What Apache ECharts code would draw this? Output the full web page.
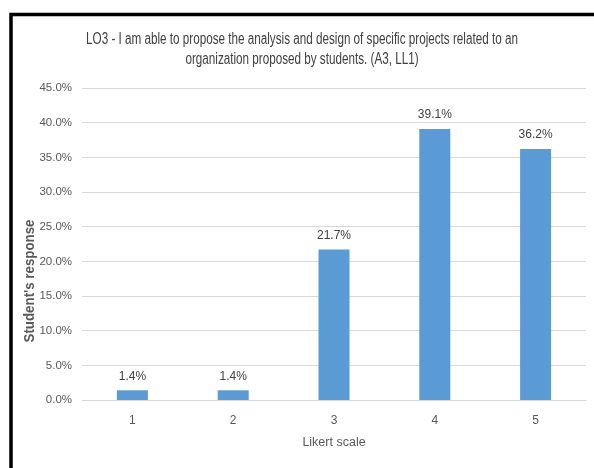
<!DOCTYPE html>
<html><head><meta charset="utf-8">
<script src="https://cdn.jsdelivr.net/npm/echarts@6/dist/echarts.min.js"></script>
<style>html,body{margin:0;padding:0;background:#fff}#c{width:594px;height:468px}</style>
</head><body><div id="c"></div>
<script>
const categories = ['1','2','3','4','5'];
const values = [1.4, 1.4, 21.7, 39.1, 36.2];
const titleLine1 = 'LO3 - I am able to propose the analysis and design of specific projects related to an';
const titleLine2 = 'organization proposed by students. (A3, LL1)';
const xName = 'Likert scale';
const yName = "Student's response";
const font = '"Liberation Sans", Arial, sans-serif';
const chart = echarts.init(document.getElementById('c'));
function titleText(t, y) {
  return {type: 'text', x: 302, y: y, scaleX: 0.73, scaleY: 1,
    style: {text: t, fontFamily: font, fontSize: 16, fill: '#404040', align: 'center', verticalAlign: 'middle'}};
}
chart.setOption({
  animation: false,
  graphic: [
    {type: 'rect', shape: {x: 11, y: 14.5, width: 700, height: 600}, style: {fill: 'none', stroke: '#000', lineWidth: 3.5}},
    titleText(titleLine1, 40),
    titleText(titleLine2, 60),
    {type: 'text', x: 30, y: 281, rotation: Math.PI/2, scaleX: 0.95,
     style: {text: yName, fontFamily: font, fontSize: 14, fontWeight: 'bold', fill: '#595959', align: 'center', verticalAlign: 'middle'}}
  ],
  grid: {left: 82, right: 8, top: 88, bottom: 68},
  xAxis: {
    type: 'category', data: categories,
    name: xName, nameLocation: 'middle', nameGap: 36,
    nameTextStyle: {fontFamily: font, fontSize: 12.5, color: '#595959'},
    axisLine: {lineStyle: {color: '#d9d9d9'}}, axisTick: {show: false},
    axisLabel: {fontFamily: font, fontSize: 12, color: '#595959', margin: 15}
  },
  yAxis: {
    type: 'value', min: 0, max: 45, interval: 5,
    axisLine: {show: false}, axisTick: {show: false},
    splitLine: {lineStyle: {color: '#d9d9d9'}},
    axisLabel: {fontFamily: font, fontSize: 11.5, color: '#595959', margin: 10, formatter: v => v.toFixed(1) + '%'}
  },
  series: [{
    type: 'bar', data: values, barWidth: 31,
    itemStyle: {color: '#5b9bd5'},
    label: {show: true, position: 'top', distance: 8, fontFamily: font, fontSize: 12, color: '#404040', formatter: p => p.value.toFixed(1) + '%'}
  }]
});
</script></body></html>
